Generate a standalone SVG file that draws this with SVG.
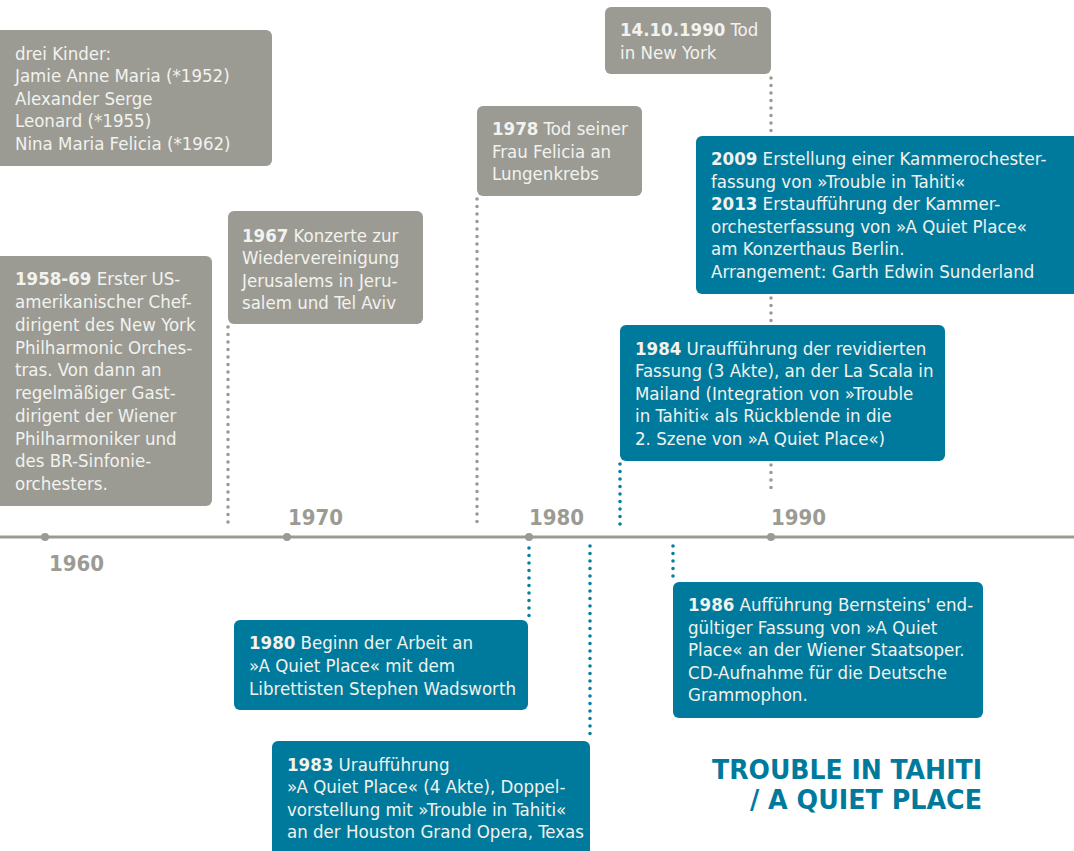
<svg xmlns="http://www.w3.org/2000/svg" width="1074" height="851" viewBox="0 0 1074 851">
<style>
.g{fill:#9b9b94}
.t{fill:#007a9c}
.bx text{font-family:"DejaVu Sans Condensed","DejaVu Sans",sans-serif;font-size:18.5px;fill:#f2f2ee}
.bx text tspan.b{font-weight:bold}
.yr{font-family:"DejaVu Sans Condensed","DejaVu Sans",sans-serif;font-size:22px;font-weight:bold;fill:#9b9b94}
.dg{stroke:#9b9b94;stroke-width:3.6;stroke-linecap:round;stroke-dasharray:0 7.5;fill:none}
.dt{stroke:#0b7ea0;stroke-width:3.6;stroke-linecap:round;stroke-dasharray:0 7.5;fill:none}
.title{font-family:"DejaVu Sans Condensed","DejaVu Sans",sans-serif;font-size:27px;font-weight:bold;fill:#007a9c}
</style>
<rect width="1074" height="851" fill="#ffffff"/>

<g id="axis">
<line x1="0" y1="537" x2="1074" y2="537" stroke="#9b9b94" stroke-width="3"/>
<circle cx="45" cy="537" r="4" fill="#9b9b94"/>
<circle cx="287" cy="537" r="4" fill="#9b9b94"/>
<circle cx="529" cy="537" r="4" fill="#9b9b94"/>
<circle cx="771" cy="537" r="4" fill="#9b9b94"/>
<text class="yr" x="49" y="571">1960</text>
<text class="yr" x="288" y="525">1970</text>
<text class="yr" x="529" y="525">1980</text>
<text class="yr" x="771" y="525">1990</text>
</g>

<g id="connectors">
<line class="dg" x1="228" y1="327" x2="228" y2="527"/>
<line class="dg" x1="477" y1="199" x2="477" y2="527"/>
<line class="dg" x1="771" y1="78" x2="771" y2="133"/>
<line class="dg" x1="771" y1="298" x2="771" y2="322"/>
<line class="dg" x1="771" y1="465" x2="771" y2="490"/>
<line class="dt" x1="620" y1="464" x2="620" y2="527"/>
<line class="dt" x1="529" y1="548" x2="529" y2="616"/>
<line class="dt" x1="590" y1="546" x2="590" y2="738"/>
<line class="dt" x1="673" y1="546" x2="673" y2="579"/>
</g>

<g id="kinder" class="bx">
<rect class="g" x="-6" y="30" width="278" height="136" rx="6"/>
<text x="15" y="60">drei Kinder:</text>
<text x="15" y="82">Jamie Anne Maria (*1952)</text>
<text x="15" y="105">Alexander Serge</text>
<text x="15" y="127">Leonard (*1955)</text>
<text x="15" y="150">Nina Maria Felicia (*1962)</text>
</g>

<g id="n1958" class="bx">
<rect class="g" x="-6" y="256" width="218" height="250" rx="6"/>
<text x="15" y="285"><tspan class="b">1958-69</tspan>  Erster US-</text>
<text x="15" y="308">amerikanischer Chef-</text>
<text x="15" y="331">dirigent des New York</text>
<text x="15" y="354">Philharmonic Orches-</text>
<text x="15" y="376">tras. Von dann an</text>
<text x="15" y="399">regelmäßiger Gast-</text>
<text x="15" y="422">dirigent der Wiener</text>
<text x="15" y="445">Philharmoniker und</text>
<text x="15" y="467">des BR-Sinfonie-</text>
<text x="15" y="490">orchesters.</text>
</g>

<g id="n1967" class="bx">
<rect class="g" x="228" y="211" width="195" height="113" rx="6"/>
<text x="242" y="242"><tspan class="b">1967</tspan> Konzerte zur</text>
<text x="242" y="264">Wiedervereinigung</text>
<text x="242" y="287">Jerusalems in Jeru-</text>
<text x="242" y="309">salem und Tel Aviv</text>
</g>

<g id="n1978" class="bx">
<rect class="g" x="477" y="106" width="165" height="90" rx="6"/>
<text x="492" y="135"><tspan class="b">1978</tspan> Tod seiner</text>
<text x="492" y="158">Frau Felicia an</text>
<text x="492" y="180">Lungenkrebs</text>
</g>

<g id="n1990" class="bx">
<rect class="g" x="605" y="7" width="166" height="67" rx="6"/>
<text x="620" y="36"><tspan class="b">14.10.1990</tspan> Tod</text>
<text x="620" y="59">in New York</text>
</g>

<g id="n2009" class="bx">
<rect class="t" x="696" y="136" width="390" height="158" rx="6"/>
<text x="711" y="165"><tspan class="b">2009</tspan> Erstellung einer Kammerochester-</text>
<text x="711" y="188">fassung von »Trouble in Tahiti«</text>
<text x="711" y="210"><tspan class="b">2013</tspan> Erstaufführung der Kammer-</text>
<text x="711" y="233">orchesterfassung von »A Quiet Place«</text>
<text x="711" y="255">am Konzerthaus Berlin.</text>
<text x="711" y="278">Arrangement: Garth Edwin Sunderland</text>
</g>

<g id="n1984" class="bx">
<rect class="t" x="620" y="325" width="325" height="136" rx="6"/>
<text x="635" y="355"><tspan class="b">1984</tspan> Uraufführung der revidierten</text>
<text x="635" y="377">Fassung (3 Akte), an der La Scala in</text>
<text x="635" y="400">Mailand (Integration von »Trouble</text>
<text x="635" y="422">in Tahiti« als Rückblende in die</text>
<text x="635" y="445">2. Szene von »A Quiet Place«)</text>
</g>

<g id="n1980" class="bx">
<rect class="t" x="234" y="620" width="294" height="90" rx="6"/>
<text x="249" y="649"><tspan class="b">1980</tspan> Beginn der Arbeit an</text>
<text x="249" y="672">»A Quiet Place« mit dem</text>
<text x="249" y="695">Librettisten Stephen Wadsworth</text>
</g>

<g id="n1983" class="bx">
<rect class="t" x="272" y="741" width="318" height="120" rx="6"/>
<text x="287" y="771"><tspan class="b">1983</tspan> Uraufführung</text>
<text x="287" y="793">»A Quiet Place« (4 Akte), Doppel-</text>
<text x="287" y="816">vorstellung mit »Trouble in Tahiti«</text>
<text x="287" y="838">an der Houston Grand Opera, Texas</text>
</g>

<g id="n1986" class="bx">
<rect class="t" x="673" y="582" width="310" height="136" rx="6"/>
<text x="688" y="611"><tspan class="b">1986</tspan> Aufführung Bernsteins' end-</text>
<text x="688" y="634">gültiger Fassung von »A Quiet</text>
<text x="688" y="656">Place« an der Wiener Staatsoper.</text>
<text x="688" y="679">CD-Aufnahme für die Deutsche</text>
<text x="688" y="701">Grammophon.</text>
</g>

<g id="title">
<text class="title" x="982" y="779" text-anchor="end" textLength="270" lengthAdjust="spacingAndGlyphs">TROUBLE IN TAHITI</text>
<text class="title" x="982" y="809" text-anchor="end" textLength="232" lengthAdjust="spacingAndGlyphs">/ A QUIET PLACE</text>
</g>
</svg>
